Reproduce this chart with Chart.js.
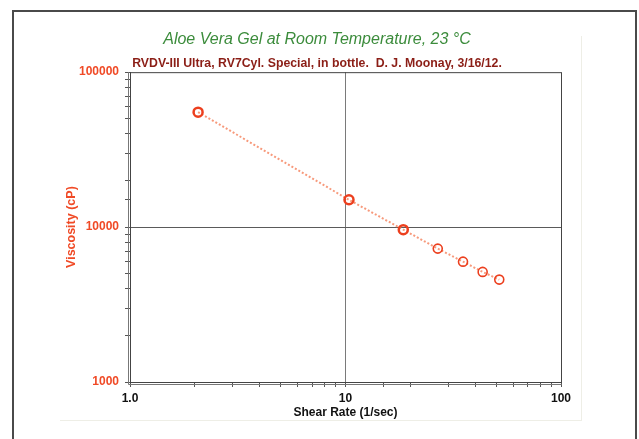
<!DOCTYPE html>
<html>
<head>
<meta charset="utf-8">
<script src="https://cdn.jsdelivr.net/npm/chart.js@4/dist/chart.umd.min.js"></script>
<style>
  html, body { margin: 0; padding: 0; background: #fff; overflow: hidden; }
  #wrap { position: relative; width: 639px; height: 439px; }
  #frame { position: absolute; left: 12px; top: 10px; width: 621px; height: 480px;
           border: 2px solid #4a4a4a; border-bottom: none; pointer-events: none; box-sizing: content-box; }
  #inner { position: absolute; left: 60px; top: 36px; width: 521px; height: 384px;
           border-right: 1px solid #eeeee6; border-bottom: 1px solid #eeeee6; pointer-events: none; }
  canvas { position: absolute; left: 0; top: 0; }
</style>
</head>
<body>
<div id="wrap">
  <div id="inner"></div>
  <canvas id="c" width="639" height="439"></canvas>
  <div id="frame"></div>
</div>
<script>
// ---- data ----
const shearRate = [2.07, 10.38, 18.54, 26.8, 35.1, 43.3, 51.7];          // 1/sec
const viscosity = [55200, 15000, 9620, 7260, 5980, 5135, 4580];        // cP
const xTickValues = [1, 10, 100];
const xTickLabels = ['1.0', '10', '100'];
const yTickValues = [1000, 10000, 100000];
const yTickLabels = ['1000', '10000', '100000'];
const titleText = 'Aloe Vera Gel at Room Temperature, 23 °C';
const subtitleText = 'RVDV-III Ultra, RV7Cyl. Special, in bottle.  D. J. Moonay, 3/16/12.';
const xTitle = 'Shear Rate (1/sec)';
const yTitle = 'Viscosity (cP)';

const FONT = "'Liberation Sans', Arial, sans-serif";
const RED = '#f04a26';
const POINT = '#ec3f1e';

const points = shearRate.map((x, i) => ({ x: x, y: viscosity[i] }));

const framePlugin = {
  id: 'framePlugin',
  afterDraw(chart) {
    const { ctx, chartArea: a } = chart;
    ctx.save();
    ctx.strokeStyle = '#444';
    ctx.lineWidth = 1;
    ctx.strokeRect(a.left + 0.5, a.top + 0.5, a.right - a.left, a.bottom - a.top);
    ctx.strokeStyle = '#777';
    ctx.beginPath();
    ctx.moveTo(a.left - 1.5, a.top);
    ctx.lineTo(a.left - 1.5, a.bottom + 2.5);
    ctx.lineTo(a.right + 0.5, a.bottom + 2.5);
    ctx.stroke();
    ctx.restore();
  }
};

new Chart(document.getElementById('c'), {
  type: 'line',
  data: {
    datasets: [{
      data: points,
      borderColor: '#f79a7c',
      borderWidth: 2,
      borderDash: [2, 2],
      pointStyle: 'circle',
      pointRadius: 4.5,
      pointBorderWidth: [2.5, 2.5, 2.5, 1.6, 1.6, 1.6, 1.6],
      pointBorderColor: POINT,
      pointBackgroundColor: 'rgba(255,255,255,0)',
      tension: 0,
      fill: false
    }]
  },
  options: {
    responsive: false,
    animation: false,
    events: [],
    layout: { padding: { left: 60, right: 65, top: 0, bottom: 17 } },
    plugins: {
      legend: { display: false },
      tooltip: { enabled: false },
      title: {
        display: true,
        text: titleText,
        color: '#3c8c3c',
        font: { family: FONT, size: 16, style: 'italic', weight: 'normal', lineHeight: 1.2 },
        padding: { top: 30, bottom: 4 }
      },
      subtitle: {
        display: true,
        text: subtitleText,
        color: '#8b1e16',
        font: { family: FONT, size: 12.3, weight: 'bold', lineHeight: 1.2 },
        padding: { top: 3, bottom: 1.2 }
      }
    },
    scales: {
      x: {
        type: 'logarithmic',
        position: 'bottom',
        min: 1,
        max: 100,
        afterFit(s) { s.height = 40; },
        border: { display: true, color: '#444', width: 1 },
        grid: {
          drawTicks: true,
          tickLength: 5,
          tickColor: '#555',
          color: (c) => (c.tick && c.tick.value === 10) ? '#7a7a7a' : 'rgba(0,0,0,0)'
        },
        ticks: {
          autoSkip: false,
          maxRotation: 0,
          padding: 4,
          color: '#111',
          font: { family: FONT, size: 12, weight: 'bold' },
          callback: (v) => { const i = xTickValues.indexOf(Number(v)); return i >= 0 ? xTickLabels[i] : ''; }
        },
        title: {
          display: true,
          text: xTitle,
          color: '#111',
          font: { family: FONT, size: 12, weight: 'bold', lineHeight: 1.2 },
          padding: { top: 2, bottom: 2 }
        }
      },
      y: {
        type: 'logarithmic',
        position: 'left',
        min: 1000,
        max: 100000,
        afterFit(s) { s.width = 70; },
        border: { display: true, color: '#444', width: 1 },
        grid: {
          drawTicks: true,
          tickLength: 5,
          tickColor: '#555',
          color: (c) => (c.tick && c.tick.value === 10000) ? '#5a5a5a' : 'rgba(0,0,0,0)'
        },
        ticks: {
          autoSkip: false,
          padding: 6,
          color: RED,
          font: { family: FONT, size: 12, weight: 'bold' },
          callback: (v) => { const i = yTickValues.indexOf(Number(v)); return i >= 0 ? yTickLabels[i] : ''; }
        },
        title: {
          display: true,
          text: yTitle,
          color: RED,
          font: { family: FONT, size: 12.5, weight: 'bold', lineHeight: 1.2 },
          padding: { top: 4, bottom: 4 }
        }
      },
      y2: {
        type: 'linear',
        position: 'right',
        display: true,
        afterFit(s) { s.width = 13; },
        border: { display: false },
        grid: { display: false, drawTicks: false },
        ticks: { display: false }
      }
    }
  },
  plugins: [framePlugin]
});
</script>
</body>
</html>
